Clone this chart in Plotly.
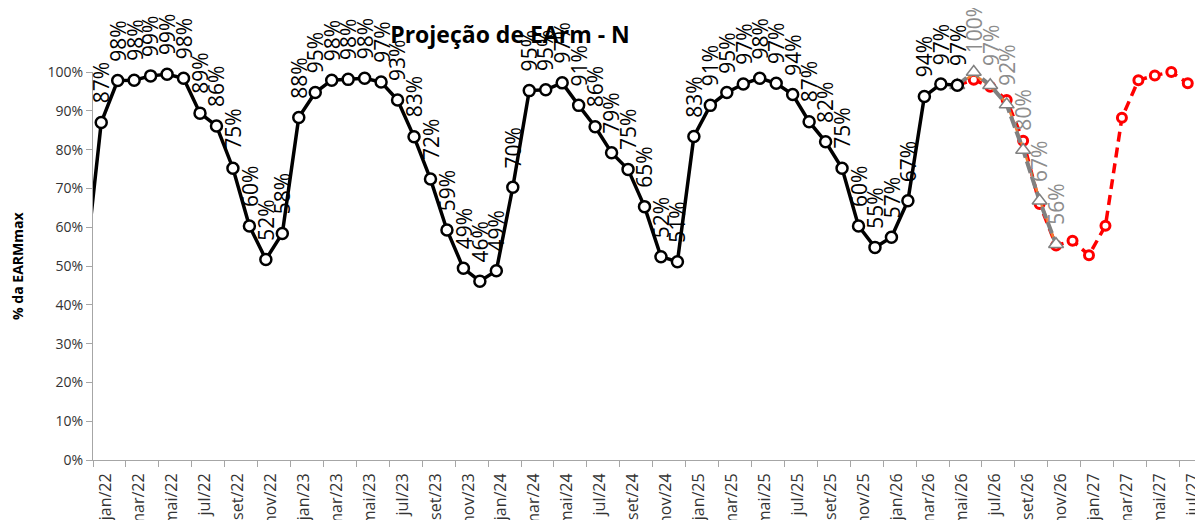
import plotly.graph_objects as go

# ---- categories (month positions: 0 = dez/21 ... 67 = jul/27) ----
meses = ["jan", "fev", "mar", "abr", "mai", "jun", "jul", "ago", "set", "out", "nov", "dez"]
months = ["dez/21"] + [f"{m}/{y}" for y in range(22, 28) for m in meses]
months = months[:68]  # up to jul/27

tick_labels = ["jan/22", "mar/22", "mai/22", "jul/22", "set/22", "nov/22",
               "jan/23", "mar/23", "mai/23", "jul/23", "set/23", "nov/23",
               "jan/24", "mar/24", "mai/24", "jul/24", "set/24", "nov/24",
               "jan/25", "mar/25", "mai/25", "jul/25", "set/25", "nov/25",
               "jan/26", "mar/26", "mai/26", "jul/26", "set/26", "nov/26",
               "jan/27", "mar/27", "mai/27", "jul/27"]

# ---- series values (fraction of EARMmax) ----
verificado = [0.48,
              0.870, 0.978, 0.979, 0.990, 0.994, 0.984, 0.894, 0.861, 0.752, 0.603, 0.517, 0.584,
              0.883, 0.947, 0.979, 0.981, 0.984, 0.974, 0.928, 0.833, 0.724, 0.593, 0.494, 0.461,
              0.488, 0.703, 0.952, 0.954, 0.972, 0.914, 0.859, 0.792, 0.749, 0.653, 0.524, 0.511,
              0.834, 0.914, 0.947, 0.969, 0.984, 0.971, 0.942, 0.872, 0.820, 0.752, 0.603, 0.548,
              0.574, 0.668, 0.937, 0.969, 0.966]
proj_cinza = [0.966, 1.000, 0.966, 0.916, 0.799, 0.668, 0.556]
proj_laranja = [0.966, 0.995, 0.963, 0.920, 0.805, 0.672, 0.553]
proj_vermelha = [0.966, 0.980, 0.962, 0.928, 0.823, 0.660, 0.553, 0.565, 0.528,
                 0.604, 0.882, 0.979, 0.991, 1.000, 0.971]

x_all = list(range(len(months)))
x_black = x_all[:len(verificado)]
start_proj = len(verificado) - 1
x_gray = x_all[start_proj:start_proj + len(proj_cinza)]
x_orange = x_all[start_proj:start_proj + len(proj_laranja)]
x_red = x_all[start_proj:start_proj + len(proj_vermelha)]

FONT = "Open Sans"

fig = go.Figure()

fig.add_trace(go.Scatter(
    x=x_red, y=proj_vermelha, mode="lines+markers", cliponaxis=False,
    line=dict(color="#FF0000", width=3.5, dash="10px,6px"),
    marker=dict(symbol="circle", size=9, color="white", line=dict(color="#FF0000", width=3)),
    customdata=[months[i] for i in x_red], hovertemplate="%{customdata}: %{y:.0%}<extra></extra>",
    showlegend=False))

fig.add_trace(go.Scatter(
    x=x_orange, y=proj_laranja, mode="lines", cliponaxis=False,
    line=dict(color="#ED7D31", width=2.5),
    showlegend=False))

fig.add_trace(go.Scatter(
    x=x_gray, y=proj_cinza, mode="lines+markers", cliponaxis=False,
    line=dict(color="#808080", width=4, dash="12px,4px"),
    marker=dict(symbol="triangle-up", size=13, color="white", line=dict(color="#808080", width=1.5)),
    showlegend=False))

black_sizes = [0] + [11] * (len(verificado) - 1)
fig.add_trace(go.Scatter(
    x=x_black, y=verificado, mode="lines+markers", cliponaxis=False,
    line=dict(color="black", width=3.5),
    marker=dict(symbol="circle", size=black_sizes, color="#FFFFFF", opacity=1,
                line=dict(color="black", width=2.5)),
    customdata=[months[i] for i in x_black], hovertemplate="%{customdata}: %{y:.0%}<extra></extra>",
    showlegend=False))

annotations = []
for xi, v in zip(x_black[1:], verificado[1:]):
    annotations.append(dict(x=xi, y=v, xref="x", yref="y", text=f"{round(v * 100)}%",
                            showarrow=False, textangle=-90, xanchor="center", yanchor="bottom",
                            yshift=17, font=dict(family=FONT, size=21, color="black")))
for xi, v in zip(x_gray[1:], proj_cinza[1:]):
    annotations.append(dict(x=xi, y=v, xref="x", yref="y", text=f"{round(v * 100)}%",
                            showarrow=False, textangle=-90, xanchor="center", yanchor="bottom",
                            yshift=17, font=dict(family=FONT, size=21, color="#8C8C8C")))
annotations.append(dict(x=-0.069, y=0.5, xref="paper", yref="paper", text="<b>% da EARMmax</b>",
                        showarrow=False, textangle=-90, xanchor="center", yanchor="middle",
                        font=dict(family=FONT, size=14, color="black")))

tick_pos = [months.index(t) for t in tick_labels]

fig.update_layout(
    width=1195, height=512,
    margin=dict(l=85, r=7, t=64, b=60),
    paper_bgcolor="white", plot_bgcolor="white",
    title=dict(text="<b>Projeção de EArm - N</b>", x=502 / 1195, xanchor="center",
               y=1 - 27 / 512, yanchor="middle", yref="container",
               font=dict(family=FONT, size=23, color="black")),
    font=dict(family=FONT, color="#333333"),
    annotations=annotations,
    xaxis=dict(range=[0.5, 67.5], tickmode="array", tickvals=[p + 0.3 for p in tick_pos],
               ticktext=tick_labels, ticklabelstandoff=6,
               tickangle=-90, ticks="", showgrid=False, zeroline=False,
               showline=True, linecolor="#A6A6A6", linewidth=1,
               tickfont=dict(family=FONT, size=16, color="#333333"),
               minor=dict(tickmode="array", tickvals=[p - 0.5 for p in tick_pos] + [67.5],
                          ticks="outside", ticklen=6, tickcolor="#A6A6A6", showgrid=False),
               automargin=False, fixedrange=True),
    yaxis=dict(range=[0, 1.0], tickmode="array", tickvals=[i / 10 for i in range(11)],
               tickformat=".0%", ticks="outside", ticklen=6, tickcolor="#A6A6A6",
               showgrid=False, zeroline=False, showline=True, linecolor="#A6A6A6", linewidth=1,
               tickfont=dict(family=FONT, size=14, color="#333333"),
               automargin=False, fixedrange=True),
)

fig.write_html("out.html")
